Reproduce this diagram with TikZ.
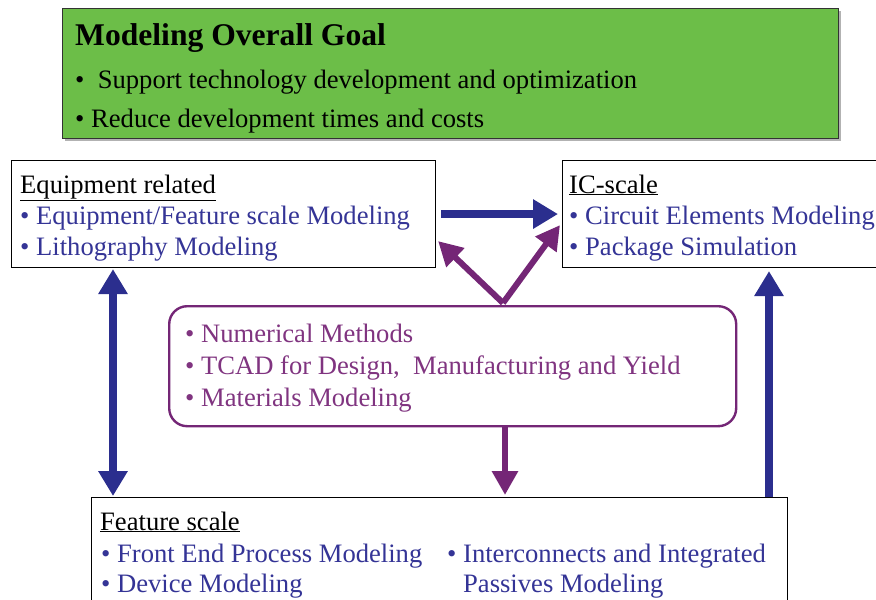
\documentclass[tikz,border=0pt]{standalone}
\usepackage{fontspec}
\setmainfont{Liberation Serif}
\usetikzlibrary{arrows.meta, positioning}
\usepackage{xcolor}
\definecolor{goalgreen}{RGB}{108,190,72}
\definecolor{itemblue}{RGB}{52,52,150}
\definecolor{itempurple}{RGB}{128,52,128}
\definecolor{arrowblue}{RGB}{43,46,142}
\definecolor{arrowpurple}{RGB}{116,38,118}
\tikzset{
    box/.style = {rectangle, draw=black, line width=1.1pt, fill=white, inner sep=0pt, anchor=north west},
    toolbox/.style = {rectangle, rounded corners=18pt, draw=arrowpurple, line width=2.4pt, fill=white, inner sep=0pt, anchor=north west},
    txt/.style = {anchor=base west, inner sep=0pt, font=\fontsize{26.6}{32}\selectfont},
    head/.style = {txt, text=black},
    item/.style = {txt, text=itemblue},
    tool/.style = {txt, text=itempurple},
    bluearrow/.style = {draw=arrowblue, line width=8pt, -{Triangle[length=25pt, width=28pt]}},
    purplearrow/.style = {draw=arrowpurple, line width=6pt, -{Triangle[length=24pt, width=25pt]}}
}

\begin{document}
\begin{tikzpicture}[x=1pt, y=-1pt]
\useasboundingbox (0,0) rectangle (876,600);
\clip (0,0) rectangle (876,600);

% goal banner
\fill[gray!60] (65,11) rectangle (841,141);
\node[box, fill=goalgreen, draw=black!80, minimum width=776pt, minimum height=130pt] (goal) at (62,8) {};
\node[txt, font=\fontsize{31.6}{36}\selectfont\bfseries] (goaltitle) at (75,45) {Modeling Overall Goal};
\node[txt] (goal1) at (75,88) {\textbullet\ \ Support technology development and optimization};
\node[txt] (goal2) at (75,127) {\textbullet\ Reduce development times and costs};

% equipment related
\node[box, minimum width=424pt, minimum height=107pt] (equip) at (11,160) {};
\node[head] (equiphead) at (20,193) {\underline{Equipment related}};
\node[item] (equip1) at (20,224) {\textbullet\ Equipment/Feature scale Modeling};
\node[item] (equip2) at (20,255) {\textbullet\ Lithography Modeling};

% IC-scale
\node[box, minimum width=340pt, minimum height=107pt] (ic) at (562,160) {};
\node[head] (ichead) at (569,193) {\underline{IC-scale}};
\node[item] (ic1) at (569,224) {\textbullet\ Circuit Elements Modeling};
\node[item] (ic2) at (569,255) {\textbullet\ Package Simulation};

% methods in the middle
\node[toolbox, minimum width=567pt, minimum height=120pt] (tools) at (168,305) {};
\node[tool] (tool1) at (185,342) {\textbullet\ Numerical Methods};
\node[tool] (tool2) at (185,374) {\textbullet\ TCAD for Design,\ \ Manufacturing and Yield};
\node[tool] (tool3) at (185,406) {\textbullet\ Materials Modeling};

% feature scale
\node[box, minimum width=696pt, minimum height=130pt] (feat) at (91,497) {};
\node[head] (feathead) at (100,530) {\underline{Feature scale}};
\node[item] (feat1) at (101,562) {\textbullet\ Front End Process Modeling};
\node[item] (feat2) at (101,592) {\textbullet\ Device Modeling};
\node[item] (feat3) at (447,562) {\textbullet\ Interconnects and Integrated};
\node[item] (feat4) at (463,592) {Passives Modeling};

% connections
\draw[bluearrow, shorten <=5pt, shorten >=4pt] (equip.east) -- (ic.west);
\draw[bluearrow, {Triangle[length=25pt, width=28pt]}-{Triangle[length=25pt, width=28pt]}, shorten <=1pt, shorten >=1pt]
    ([xshift=102pt]equip.south west) -- ([xshift=22pt]feat.north west);
\draw[bluearrow, shorten >=3pt] ([xshift=678pt]feat.north west) -- ([xshift=207pt]ic.south west);
\draw[purplearrow, line join=miter] ([xshift=335pt, yshift=2pt]tools.north west) -- ([xshift=2pt, yshift=27pt]equip.south east);
\draw[purplearrow] ([xshift=335pt, yshift=2pt]tools.north west) -- ([xshift=-2pt, yshift=-11pt]ic.west);
\draw[purplearrow, shorten >=2pt] ([xshift=337pt]tools.south west) -- ([xshift=414pt]feat.north west);
\end{tikzpicture}
\end{document}
